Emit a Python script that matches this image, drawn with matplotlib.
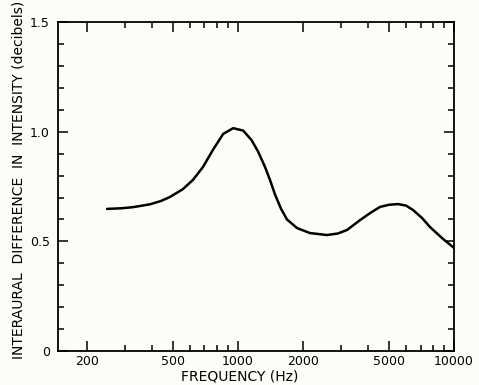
import matplotlib.pyplot as plt
from matplotlib.ticker import FixedLocator, NullFormatter

# interaural intensity difference vs frequency
freq = [248, 290, 327, 392, 440, 484, 556, 619, 689, 766, 855, 951, 1057,
        1155, 1240, 1333, 1407, 1484, 1580, 1686, 1875, 2153, 2581,
        2900, 3196, 3673, 4100, 4543, 5000, 5506, 6000, 6457, 7100,
        7744, 8800, 10000]
diff_db = [0.648, 0.651, 0.656, 0.669, 0.684, 0.702, 0.738, 0.780, 0.839,
           0.917, 0.990, 1.016, 1.005, 0.962, 0.909, 0.840, 0.780, 0.714,
           0.650, 0.600, 0.561, 0.538, 0.529, 0.536, 0.552, 0.597, 0.630,
           0.657, 0.667, 0.670, 0.663, 0.643, 0.607, 0.565, 0.515, 0.470]

major_x = [200, 500, 1000, 2000, 5000, 10000]
minor_x = [300, 400, 600, 700, 800, 900, 3000, 4000, 6000, 7000, 8000, 9000]
y_ticks = [0, 0.5, 1.0, 1.5]
y_labels = ['0', '0.5', '1.0', '1.5']

plt.rcParams['font.family'] = ['DejaVu Sans']

fig = plt.figure(figsize=(4.79, 3.85), dpi=100, facecolor='#fcfcf9')
ax = fig.add_axes([0.121, 0.088, 0.827, 0.855])
ax.set_facecolor('#fcfcf9')

ax.plot(freq, diff_db, color='black', linewidth=1.8, solid_capstyle='round',
        solid_joinstyle='round')

ax.set_xscale('log')
ax.set_xlim(147, 10000)
ax.set_ylim(0, 1.5)

ax.xaxis.set_major_locator(FixedLocator(major_x))
ax.xaxis.set_minor_locator(FixedLocator(minor_x))
ax.set_xticklabels([str(v) for v in major_x])
ax.xaxis.set_minor_formatter(NullFormatter())

ax.set_yticks(y_ticks)
ax.set_yticklabels(y_labels)
ax.set_yticks([0.1, 0.2, 0.3, 0.4, 0.6, 0.7, 0.8, 0.9, 1.1, 1.2, 1.3, 1.4],
              minor=True)

ax.tick_params(which='both', direction='in', top=True, right=True,
               width=1.1, labelsize=9)
ax.tick_params(which='major', length=7)
ax.tick_params(which='minor', length=4)
ax.tick_params(axis='x', which='major', pad=3)
ax.tick_params(axis='y', which='major', pad=6)

for s in ax.spines.values():
    s.set_linewidth(1.3)

ax.set_xlabel('FREQUENCY (Hz)', fontsize=10)
ax.xaxis.set_label_coords(0.46, -0.055)
ax.set_ylabel('INTERAURAL  DIFFERENCE  IN  INTENSITY (decibels)', fontsize=10)
ax.yaxis.set_label_coords(-0.081, 0.52)

fig.savefig('out.png', dpi=100, facecolor=fig.get_facecolor())
